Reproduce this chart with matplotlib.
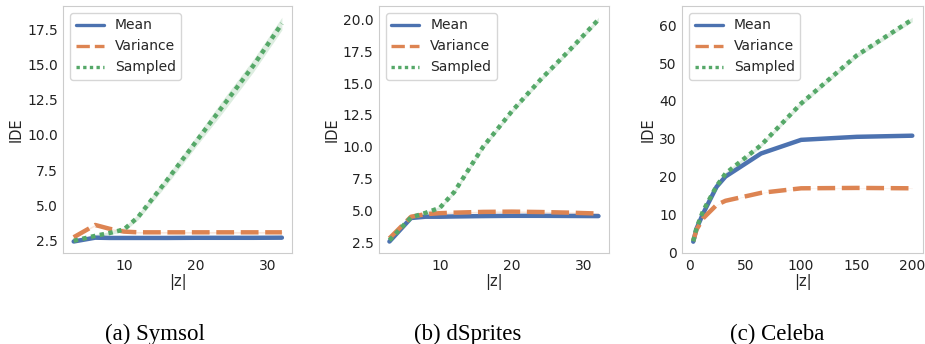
import matplotlib
matplotlib.use("Agg")
import matplotlib.pyplot as plt
import seaborn as sns
import numpy as np

# latent sizes
z_small = [3, 6, 8, 10, 12, 16, 20, 24, 28, 32]
z_celeba = [3, 6, 12, 24, 32, 64, 100, 150, 200]

# Symsol
mean_symsol = [2.45, 2.72, 2.70, 2.70, 2.70, 2.70, 2.71, 2.71, 2.71, 2.72]
var_symsol = [2.75, 3.62, 3.35, 3.15, 3.10, 3.10, 3.10, 3.10, 3.10, 3.10]
samp_symsol = [2.50, 2.85, 3.05, 3.30, 4.20, 6.80, 9.50, 12.2, 14.9, 17.9]
samp_symsol_err = [0.05, 0.10, 0.10, 0.15, 0.20, 0.30, 0.35, 0.45, 0.45, 0.45]

# dSprites
mean_dsprites = [2.55, 4.40, 4.50, 4.50, 4.52, 4.55, 4.57, 4.57, 4.56, 4.55]
var_dsprites = [2.80, 4.50, 4.70, 4.78, 4.82, 4.88, 4.90, 4.87, 4.82, 4.75]
samp_dsprites = [2.65, 4.45, 4.80, 5.20, 6.45, 10.0, 12.8, 15.3, 17.6, 20.0]
samp_dsprites_err = [0.05, 0.08, 0.10, 0.12, 0.15, 0.18, 0.18, 0.18, 0.18, 0.18]

# Celeba
mean_celeba = [2.8, 6.3, 10.3, 17.3, 20.0, 26.1, 29.7, 30.5, 30.8]
var_celeba = [3.0, 6.0, 9.0, 12.5, 13.6, 15.7, 16.9, 17.0, 16.9]
samp_celeba = [2.9, 6.5, 11.0, 17.5, 20.8, 28.3, 39.3, 52.0, 61.5]
samp_celeba_err = [0.2, 0.3, 0.3, 0.4, 0.4, 0.5, 0.6, 0.6, 0.6]

titles = ["(a) Symsol", "(b) dSprites", "(c) Celeba"]

sns.set_style("whitegrid", {"axes.grid": False, "axes.edgecolor": "#cccccc"})
plt.rcParams["font.family"] = ["DejaVu Sans"]
plt.rcParams["font.size"] = 10

pal = sns.color_palette("deep")
c_mean, c_var, c_samp = pal[0], pal[1], pal[2]

fig = plt.figure(figsize=(9.25, 3.44), dpi=100)
boxes = [
    [0.0684, 0.2637, 0.2476, 0.7189],
    [0.4097, 0.2637, 0.2486, 0.7189],
    [0.7376, 0.2637, 0.2605, 0.7189],
]
panels = [
    (z_small, mean_symsol, var_symsol, samp_symsol, samp_symsol_err),
    (z_small, mean_dsprites, var_dsprites, samp_dsprites, samp_dsprites_err),
    (z_celeba, mean_celeba, var_celeba, samp_celeba, samp_celeba_err),
]
caption_x = [155, 468, 777]

for box, (xs, m, v, s, err), title, cx in zip(boxes, panels, titles, caption_x):
    ax = fig.add_axes(box)
    xs = np.array(xs)
    m, v, s, err = map(np.array, (m, v, s, err))
    # small confidence bands
    ax.fill_between(xs, m - 0.04, m + 0.04, color=c_mean, alpha=0.2, lw=0)
    ax.fill_between(xs, v - 0.06, v + 0.06, color=c_var, alpha=0.2, lw=0)
    ax.fill_between(xs, s - err, s + err, color=c_samp, alpha=0.2, lw=0)
    ax.plot(xs, m, color=c_mean, lw=3.2, label="Mean")
    ax.plot(xs, v, color=c_var, lw=3.2, ls=(0, (4, 1.5)), label="Variance")
    ax.plot(xs, s, color=c_samp, lw=3.2, ls=(0, (1, 1)), label="Sampled")
    ax.set_xlabel("|z|", fontsize=10.5, labelpad=1)
    ax.set_ylabel("IDE", fontsize=10.5, labelpad=2.5)
    ax.tick_params(labelsize=10, pad=4, length=0, labelcolor="#222222")
    leg = ax.legend(loc="upper left", fontsize=10, frameon=True)
    for ln in leg.get_lines():
        ln.set_linewidth(2.4)
    fig.text(cx / 925, 4 / 344, title, ha="center", va="baseline",
             fontsize=16.5, family="Liberation Serif", color="black")

fig.savefig("out.png", dpi=100)
